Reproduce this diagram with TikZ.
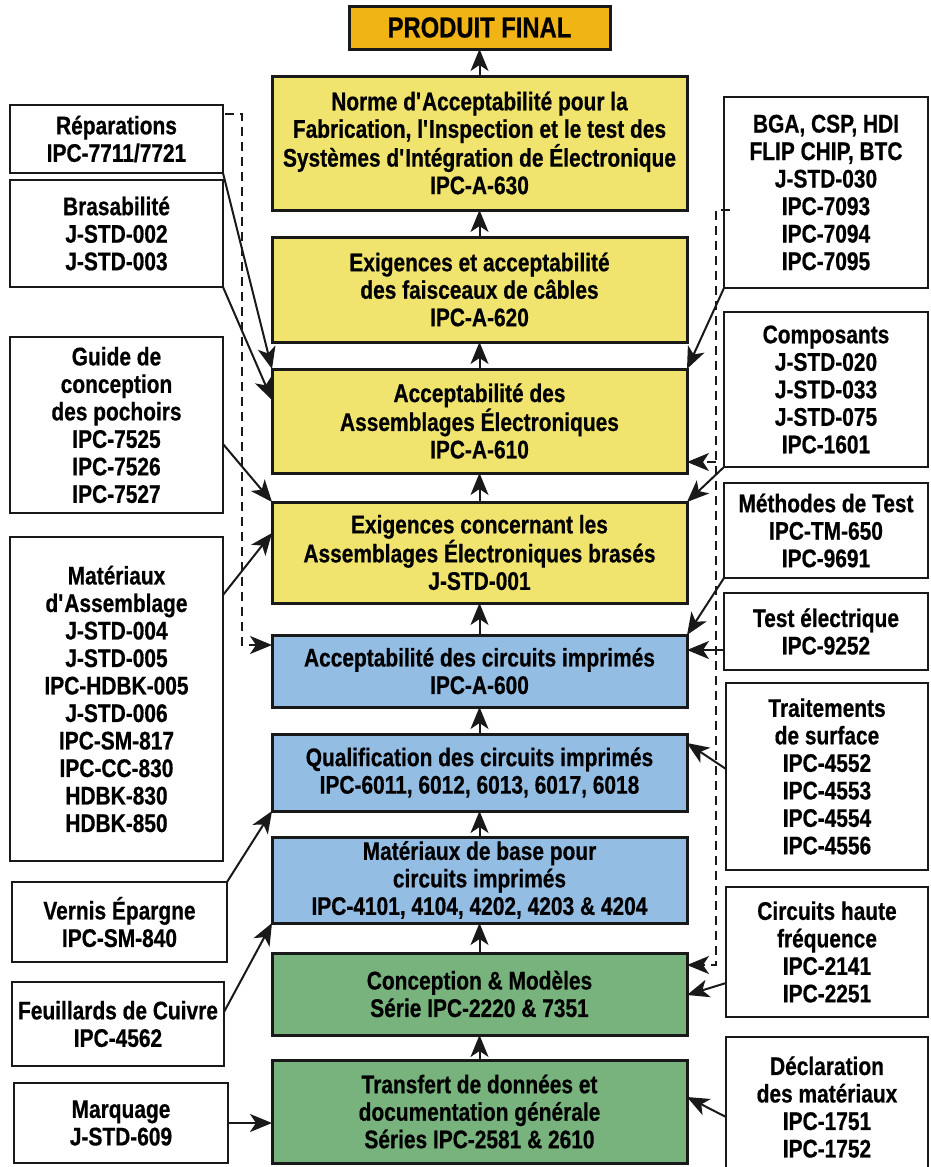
\documentclass[tikz,border=0pt]{standalone}
\usepackage{fontspec}
\setmainfont{Liberation Sans}[FakeStretch=0.82,BoldFeatures={FakeBold=0.6}]
\usetikzlibrary{positioning,calc,arrows.meta}

\definecolor{finalgold}{RGB}{240,180,20}
\definecolor{asmyellow}{RGB}{240,228,110}
\definecolor{pcbblue}{RGB}{148,189,228}
\definecolor{dsgngreen}{RGB}{120,178,125}
\definecolor{edge}{RGB}{25,25,25}

\begin{document}
\begin{tikzpicture}[x=1pt,y=-1pt,
      every node/.style={draw=edge,line width=3pt,inner sep=0pt,outer sep=0pt,align=center,
        font=\fontsize{25.5}{27.5}\selectfont\bfseries},
      core/.style={minimum width=415pt},
      side/.style={anchor=north west,fill=white,line width=2.7pt},
      link/.style={draw=edge,line width=2pt,-{Stealth[length=22pt,width=18pt,inset=6pt]}},
      dashlink/.style={link,dash pattern=on 9pt off 6pt}]
  \useasboundingbox (0,0) rectangle (930,1167);

  % central column
  \node[fill=finalgold,minimum width=261pt,minimum height=43pt,
        font=\fontsize{29}{32}\selectfont\bfseries] (final) at (479.5,27.5) {PRODUIT FINAL};
  \node[core,fill=asmyellow,minimum height=134pt,below=27pt of final] (n630)
    {Norme d\textquotesingle Acceptabilité pour la\\Fabrication, l\textquotesingle Inspection et le test des\\Systèmes d\textquotesingle Intégration de Électronique\\IPC-A-630};
  \node[core,fill=asmyellow,minimum height=105pt,below=27pt of n630] (n620)
    {Exigences et acceptabilité\\des faisceaux de câbles\\IPC-A-620};
  \node[core,fill=asmyellow,minimum height=104pt,below=27pt of n620] (n610)
    {Acceptabilité des\\Assemblages Électroniques\\IPC-A-610};
  \node[core,fill=asmyellow,minimum height=101pt,below=29pt of n610] (n001)
    {Exigences concernant les\\Assemblages Électroniques brasés\\J-STD-001};
  \node[core,fill=pcbblue,minimum height=72pt,below=32pt of n001] (n600)
    {Acceptabilité des circuits imprimés\\IPC-A-600};
  \node[core,fill=pcbblue,minimum height=77pt,below=27pt of n600] (n6011)
    {Qualification des circuits imprimés\\IPC-6011, 6012, 6013, 6017, 6018};
  \node[core,fill=pcbblue,minimum height=86pt,below=26pt of n6011] (n4101)
    {Matériaux de base pour\\circuits imprimés\\IPC-4101, 4104, 4202, 4203 \& 4204};
  \node[core,fill=dsgngreen,minimum height=82pt,below=30pt of n4101] (n2220)
    {Conception \& Modèles\\Série IPC-2220 \& 7351};
  \node[core,fill=dsgngreen,minimum height=103pt,below=25pt of n2220] (n2581)
    {Transfert de données et\\documentation générale\\Séries IPC-2581 \& 2610};

  % left column
  \node[side,minimum width=213pt,minimum height=68pt] (repar) at (10,105)
    {Réparations\\IPC-7711/7721};
  \node[side,minimum width=213pt,minimum height=107pt] (brasa) at (10,180)
    {Brasabilité\\J-STD-002\\J-STD-003};
  \node[side,minimum width=213pt,minimum height=176pt] (guide) at (10,337)
    {Guide de\\conception\\des pochoirs\\IPC-7525\\IPC-7526\\IPC-7527};
  \node[side,minimum width=213pt,minimum height=324pt] (matass) at (10,537)
    {Matériaux\\d\textquotesingle Assemblage\\J-STD-004\\J-STD-005\\IPC-HDBK-005\\J-STD-006\\IPC-SM-817\\IPC-CC-830\\HDBK-830\\HDBK-850};
  \node[side,minimum width=215pt,minimum height=80pt] (vernis) at (12,882)
    {Vernis Épargne\\IPC-SM-840};
  \node[side,minimum width=212pt,minimum height=84pt] (feuil) at (12,982)
    {Feuillards de Cuivre\\IPC-4562};
  \node[side,minimum width=214pt,minimum height=80pt] (marq) at (14,1083)
    {Marquage\\J-STD-609};

  % right column
  \node[side,minimum width=204pt,minimum height=191pt] (bga) at (724,97)
    {BGA, CSP, HDI\\FLIP CHIP, BTC\\J-STD-030\\IPC-7093\\IPC-7094\\IPC-7095};
  \node[side,minimum width=204pt,minimum height=155pt] (compo) at (724,312)
    {Composants\\J-STD-020\\J-STD-033\\J-STD-075\\IPC-1601};
  \node[side,minimum width=204pt,minimum height=95pt] (methodes) at (724,483)
    {Méthodes de Test\\IPC-TM-650\\IPC-9691};
  \node[side,minimum width=204pt,minimum height=77pt] (testel) at (724,593)
    {Test électrique\\IPC-9252};
  \node[side,minimum width=202pt,minimum height=187pt] (traite) at (726,683)
    {Traitements\\de surface\\IPC-4552\\IPC-4553\\IPC-4554\\IPC-4556};
  \node[side,minimum width=202pt,minimum height=130pt] (hf) at (726,887)
    {Circuits haute\\fréquence\\IPC-2141\\IPC-2251};
  \node[side,minimum width=202pt,minimum height=140pt] (decl) at (726,1037)
    {Déclaration\\des matériaux\\IPC-1751\\IPC-1752};

  % central chain
  \foreach \lo/\hi in {n630/final,n620/n630,n610/n620,n001/n610,n600/n001,
                       n6011/n600,n4101/n6011,n2220/n4101,n2581/n2220}
    \draw[link] (\lo.north) -- (\hi.south);

  % left feeds
  \draw[dashlink] ($(repar.north east)+(2,9)$) -- ++(17,0) |- ($(n600.north west)+(0,10)$);
  \draw[link] (repar.south east) -- (n610.north west);
  \draw[link] (brasa.south east) -- ($(n610.north west)+(0,31)$);
  \draw[link] ($(guide.north east)+(0,107)$) -- (n001.north west);
  \draw[link] ($(matass.north east)+(0,58)$) -- ($(n001.north west)+(0,31)$);
  \draw[link] (vernis.north east) -- (n6011.south west);
  \draw[link] ($(feuil.north east)+(0,30)$) -- (n4101.south west);
  \draw[link] (marq.east) -- (marq.east -| n2581.west);

  % right feeds
  \draw[dashlink] ($(bga.north west)+(6,113)$) -- ++(-14,0) |- ($(n2220.north east)+(0,12)$);
  \draw[dashlink] ($(n610.south east)+(29,-11)$) -- ($(n610.south east)+(0,-11)$);
  \draw[link] (bga.south west) -- (n610.north east);
  \draw[link] (compo.south west) -- (n001.north east);
  \draw[link] (methodes.south west) -- (n600.north east);
  \draw[link] ($(testel.north west)+(0,57)$) -- ($(n600.north east)+(0,15)$);
  \draw[link] ($(traite.north west)+(0,86)$) -- ($(n6011.north east)+(0,9)$);
  \draw[link] ($(hf.north west)+(0,96)$) -- ($(n2220.north east)+(0,42)$);
  \draw[link] ($(decl.north west)+(0,80)$) -- ($(n2581.north east)+(0,37)$);
\end{tikzpicture}
\end{document}
